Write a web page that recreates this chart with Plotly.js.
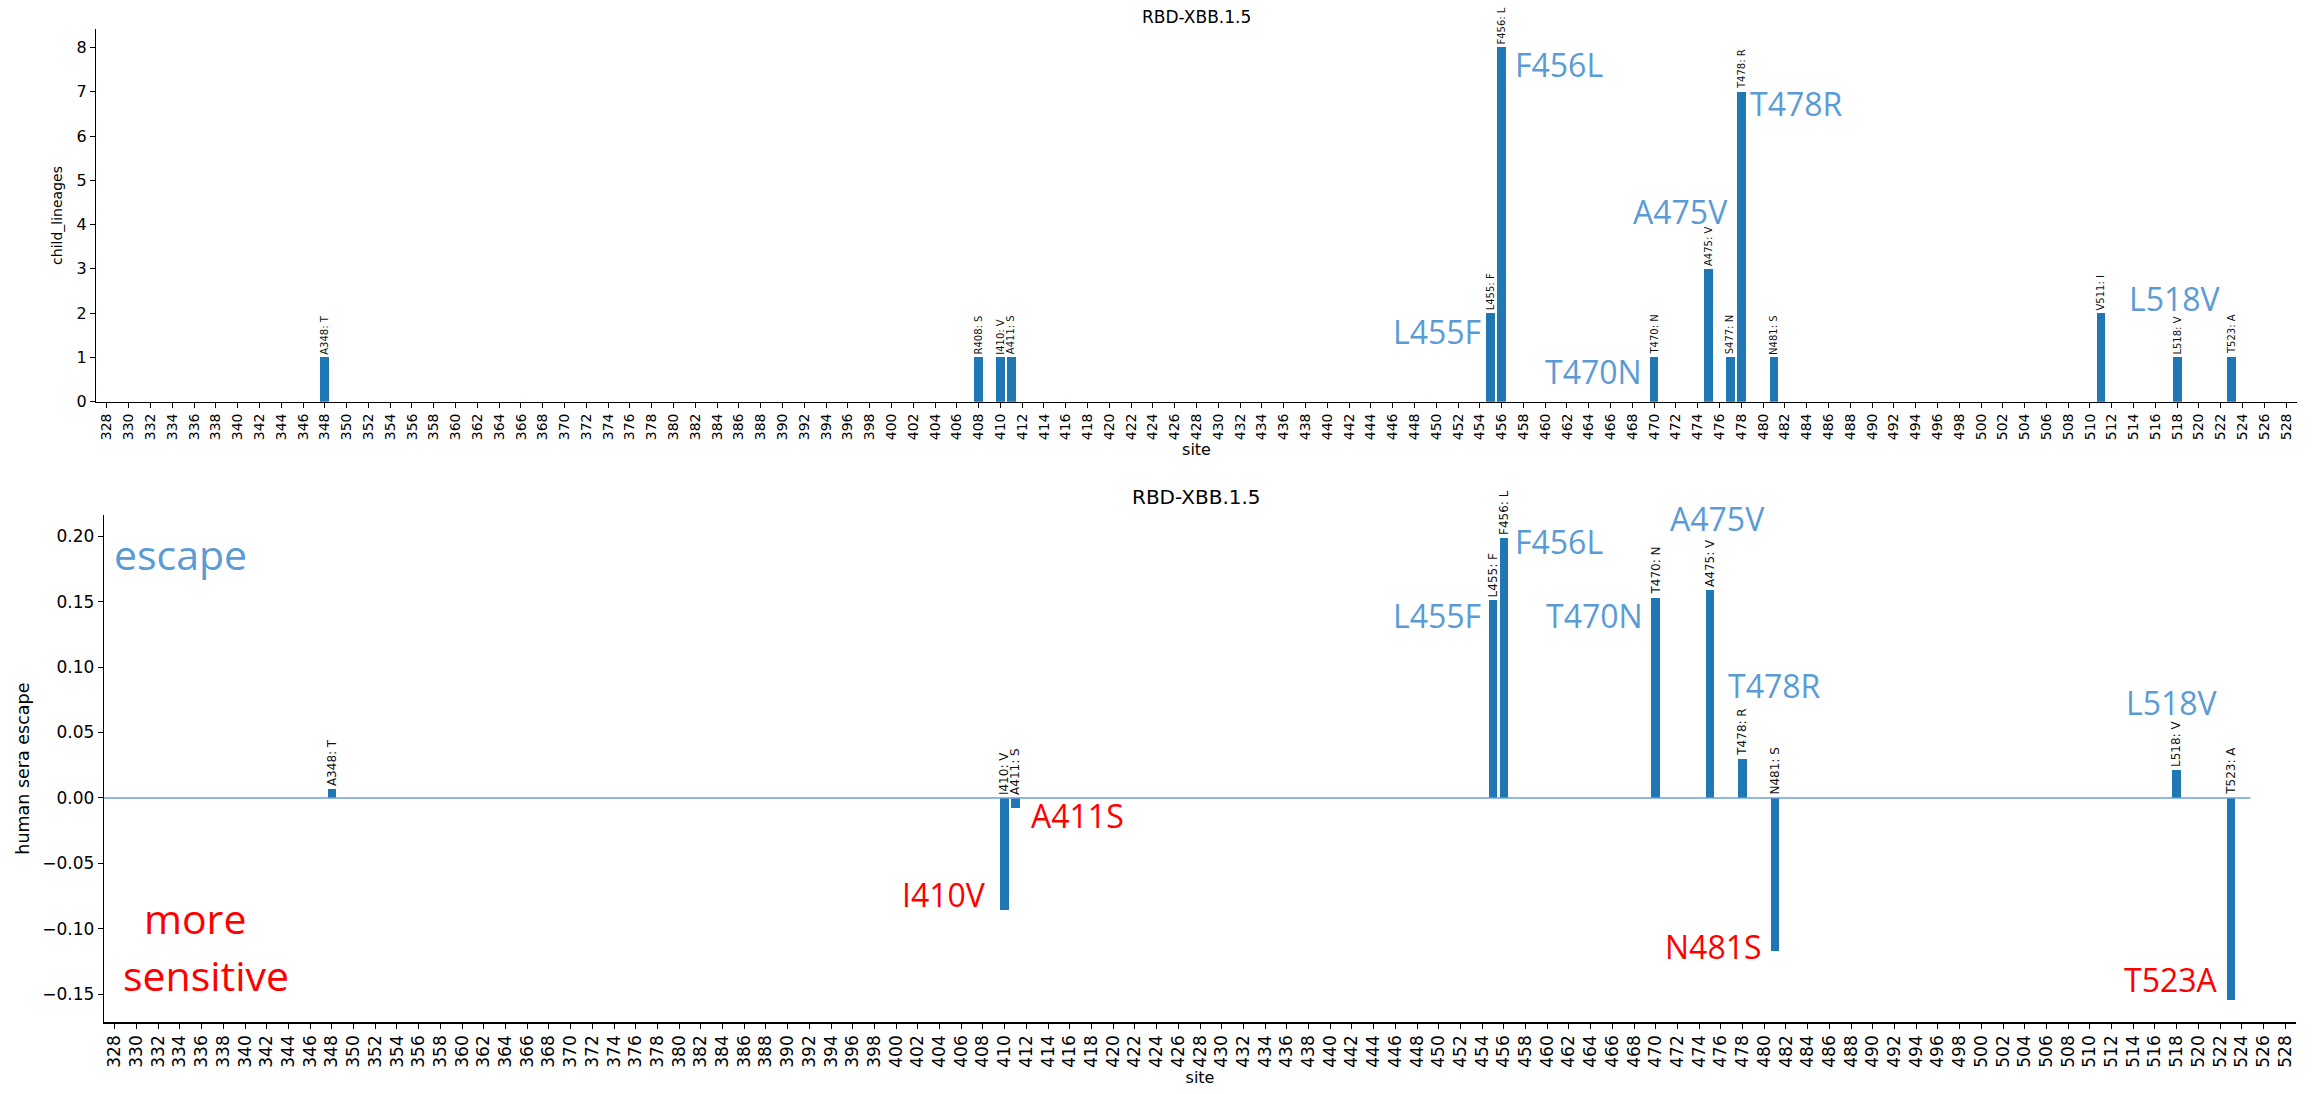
<!DOCTYPE html>
<html>
<head>
<meta charset="utf-8">
<script src="https://cdn.plot.ly/plotly-3.0.1.min.js"></script>
<style>html,body{margin:0;padding:0;background:#fff}#chart{width:2312px;height:1094px}</style>
</head>
<body>
<div id="chart"></div>
<script>
// ---- Data: top panel (child lineages) ----
const topSites    = [348, 408, 410, 411, 455, 456, 470, 475, 477, 478, 481, 511, 518, 523];
const topWildtype = ['A','R','I','A','L','F','T','A','S','T','N','V','L','T'];
const topMutant   = ['T','S','V','S','F','L','N','V','N','R','S','I','V','A'];
const topValues   = [1, 1, 1, 1, 2, 8, 1, 3, 1, 7, 1, 2, 1, 1];

// ---- Data: bottom panel (human sera escape) ----
const botSites    = [348, 410, 411, 455, 456, 470, 475, 478, 481, 518, 523];
const botWildtype = ['A','I','A','L','F','T','A','T','N','L','T'];
const botMutant   = ['T','V','S','F','L','N','V','R','S','V','A'];
const botValues   = [0.007, -0.086, -0.0075, 0.151, 0.199, 0.153, 0.159, 0.030, -0.117, 0.021, -0.1545];

const panelTitle = 'RBD-XBB.1.5';
const xTitle = 'site';
const topYTitle = 'child_lineages';
const botYTitle = 'human sera escape';
const xTickStart = 328, xTickEnd = 528;

// Highlight labels: [text, x, y, xanchor, colour]
const BLUE = '#5B9BD5', RED = '#FF0000';
const topCallouts = [
  ['L455F', 454.2, 1.58, 'right', BLUE],
  ['F456L', 457.1, 7.61, 'left',  BLUE],
  ['T470N', 469.0, 0.68, 'right', BLUE],
  ['A475V', 476.85, 4.30, 'right', BLUE],
  ['T478R', 478.7, 6.74, 'left',  BLUE],
  ['L518V', 513.5, 2.33, 'left',  BLUE]
];
const botCallouts = [
  ['L455F', 454.0, 0.1398, 'right', BLUE],
  ['F456L', 456.9, 0.1962, 'left',  BLUE],
  ['T470N', 468.9, 0.1398, 'right', BLUE],
  ['A475V', 471.2, 0.214,  'left',  BLUE],
  ['T478R', 476.6, 0.0863, 'left',  BLUE],
  ['L518V', 521.9, 0.0729, 'right', BLUE],
  ['I410V', 408.35, -0.0742, 'right', RED],
  ['A411S', 412.3, -0.0131, 'left', RED],
  ['N481S', 479.9, -0.1138, 'right', RED],
  ['T523A', 521.9, -0.1386, 'right', RED]
];

const FONT = 'DejaVu Sans';
const BIG = 'Open Sans';

const tickVals = [];
for (let s = xTickStart; s <= xTickEnd; s += 2) tickVals.push(s);

const traces = [
  {type:'bar', x: topSites, y: topValues, xaxis:'x', yaxis:'y', width:0.8,
   marker:{color:'#1f77b4'}, hoverinfo:'x+y'},
  {type:'bar', x: botSites, y: botValues, xaxis:'x2', yaxis:'y2', width:0.8,
   marker:{color:'#1f77b4'}, hoverinfo:'x+y'}
];

const annotations = [];
topSites.forEach((s, i) => {
  annotations.push({xref:'x', yref:'y', x:s, y:Math.max(0, topValues[i]),
    text: topWildtype[i] + s + ': ' + topMutant[i], textangle:-90, showarrow:false,
    xanchor:'center', yanchor:'bottom', yshift:2, borderpad:0,
    font:{family:FONT, size:10, color:'#111'}});
});
botSites.forEach((s, i) => {
  annotations.push({xref:'x2', yref:'y2', x:s, y:Math.max(0, botValues[i]),
    text: botWildtype[i] + s + ': ' + botMutant[i], textangle:-90, showarrow:false,
    xanchor:'center', yanchor:'bottom', yshift:2, borderpad:0,
    font:{family:FONT, size:12, color:'#111'}});
});
topCallouts.forEach(c => annotations.push({xref:'x', yref:'y', x:c[1], y:c[2], text:c[0],
  xanchor:c[3], yanchor:'middle', showarrow:false, borderpad:0,
  font:{family:BIG, size:32, color:c[4]}}));
botCallouts.forEach(c => annotations.push({xref:'x2', yref:'y2', x:c[1], y:c[2], text:c[0],
  xanchor:c[3], yanchor:'middle', showarrow:false, borderpad:0,
  font:{family:BIG, size:32, color:c[4]}}));
annotations.push({xref:'x2', yref:'y2', x:327.83, y:0.1868, text:'escape', xanchor:'left', yanchor:'middle',
  showarrow:false, borderpad:0, font:{family:BIG, size:41, color:BLUE}});
annotations.push({xref:'x2', yref:'y2', x:335.4, y:-0.0916, text:'more', xanchor:'center', yanchor:'middle',
  showarrow:false, borderpad:0, font:{family:BIG, size:41, color:RED}});
annotations.push({xref:'x2', yref:'y2', x:336.4, y:-0.1357, text:'sensitive', xanchor:'center', yanchor:'middle',
  showarrow:false, borderpad:0, font:{family:BIG, size:41, color:RED}});
// Panel titles
annotations.push({xref:'paper', yref:'paper', x:0.5174, y:1-17/1094, text:panelTitle, showarrow:false,
  xanchor:'center', yanchor:'middle', font:{family:FONT, size:17, color:'#000'}});
annotations.push({xref:'paper', yref:'paper', x:0.5177, y:1-497/1094, text:panelTitle, showarrow:false,
  xanchor:'center', yanchor:'middle', font:{family:FONT, size:20, color:'#000'}});

const axisCommon = {showline:true, linecolor:'#000', linewidth:1.2, ticks:'outside', ticklen:5,
  tickcolor:'#000', showgrid:false, zeroline:false, fixedrange:true};

const layout = {
  width:2312, height:1094,
  margin:{l:0, r:0, t:0, b:0},
  paper_bgcolor:'#fff', plot_bgcolor:'#fff',
  showlegend:false, bargap:0,
  font:{family:FONT, color:'#000'},
  xaxis: Object.assign({}, axisCommon, {
    domain:[96/2312, 2297/2312], range:[327, 529], anchor:'y',
    tickmode:'array', tickvals:tickVals, ticktext:tickVals.map(String), tickangle:-90,
    tickfont:{family:FONT, size:14},
    title:{text:xTitle, font:{family:FONT, size:16}, standoff:3}
  }),
  yaxis: Object.assign({}, axisCommon, {
    domain:[1-401.7/1094, 1-29.3/1094], range:[0, 8.41], anchor:'x',
    tickmode:'linear', tick0:0, dtick:1, tickfont:{family:FONT, size:16},
    title:{text:topYTitle, font:{family:FONT, size:14}, standoff:10}
  }),
  xaxis2: Object.assign({}, axisCommon, {
    domain:[104/2312, 2296/2312], range:[327, 529], anchor:'y2',
    tickmode:'array', tickvals:tickVals, ticktext:tickVals.map(String), tickangle:-90,
    tickfont:{family:FONT, size:17},
    title:{text:xTitle, font:{family:FONT, size:16}, standoff:3}
  }),
  yaxis2: Object.assign({}, axisCommon, {
    domain:[1-1022.3/1094, 1-515/1094], range:[-0.1716, 0.2163], anchor:'x2',
    tickmode:'linear', tick0:-0.15, dtick:0.05, tickformat:'.2f', tickfont:{family:FONT, size:17},
    title:{text:botYTitle, font:{family:FONT, size:17.5}, standoff:8}
  }),
  shapes:[{type:'line', xref:'x2', yref:'y2', x0:327, x1:524.8, y0:0, y1:0,
    line:{color:'#6A9FD8', width:1.5}, layer:'above'}],
  annotations: annotations
};

Plotly.newPlot('chart', traces, layout, {displayModeBar:false, staticPlot:true});
</script>
</body>
</html>
